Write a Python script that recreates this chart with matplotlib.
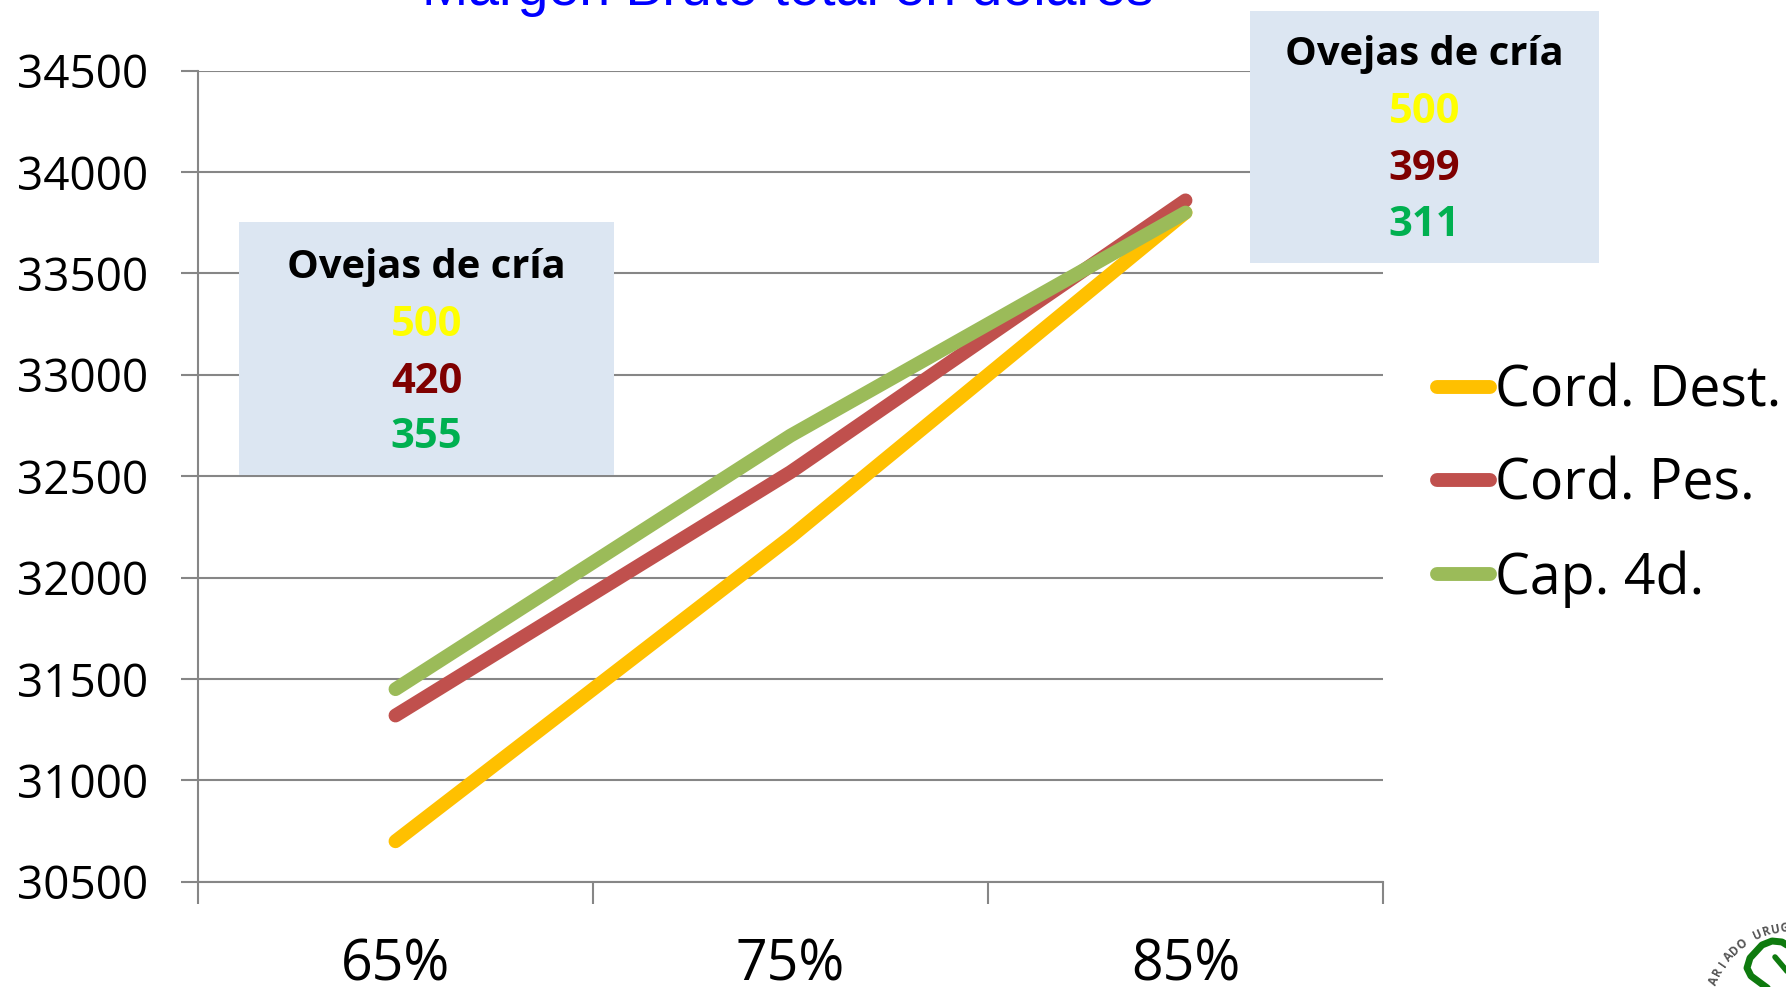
import numpy as np
import matplotlib
matplotlib.use('Agg')
import matplotlib.pyplot as plt
from matplotlib.patches import Rectangle
from matplotlib.lines import Line2D

# Data
categories = ['65%', '75%', '85%']
cord_dest = [30700, 32200, 33800]
cord_pes = [31320, 32520, 33860]
cap_4d = [31450, 32700, 33800]
y_ticks = [30500, 31000, 31500, 32000, 32500, 33000, 33500, 34000, 34500]

box_title = 'Ovejas de cría'
box_left_values = ['500', '420', '355']
box_right_values = ['500', '399', '311']
box_value_colors = ['#FFFF00', '#7F0000', '#00B050']

W, H = 1786, 987
GRAY = '#868686'
FONT = 'Open Sans'
LW = 10

plt.rcParams['font.family'] = [FONT, 'DejaVu Sans']
fig = plt.figure(figsize=((W + 0.01) / 100, (H + 0.01) / 100), dpi=100, facecolor='white')


# Reference is measured in pixels from the top left
def fx(px):
    return px / W


def fy(py):
    return 1 - py / H


ax = fig.add_axes([fx(198), fy(881.8), fx(1383) - fx(198), fy(70.6) - fy(881.8)])

x = np.arange(len(categories)) + 0.5
ax.plot(x, cord_dest, color='#FFC000', lw=LW, solid_capstyle='round', solid_joinstyle='round')
ax.plot(x, cord_pes, color='#C0504D', lw=LW, solid_capstyle='round', solid_joinstyle='round')
ax.plot(x, cap_4d, color='#9BBB59', lw=LW, solid_capstyle='round', solid_joinstyle='round')

ax.set_xlim(0, len(categories))
ax.set_ylim(y_ticks[0], y_ticks[-1])
ax.set_yticks(y_ticks)
ax.set_xticks(np.arange(len(categories) + 1))
ax.set_xticklabels([])
ax.set_xticks(x, minor=True)
ax.set_xticklabels(categories, minor=True)

ax.grid(axis='y', color=GRAY, lw=1.5)
ax.set_axisbelow(True)
for name in ['top', 'right']:
    ax.spines[name].set_visible(False)
for name in ['left', 'bottom']:
    ax.spines[name].set_color(GRAY)
    ax.spines[name].set_linewidth(1.5)

ax.tick_params(axis='y', length=12, width=1.5, color=GRAY, pad=24, labelsize=33)
ax.tick_params(axis='x', which='major', length=16, width=1.5, color=GRAY)
ax.tick_params(axis='x', which='minor', length=0, pad=40, labelsize=40)

handles = [Line2D([0], [0], color=c, lw=LW, solid_capstyle='round') for c in ['#FFC000', '#C0504D', '#9BBB59']]
ax.legend(handles, ['Cord. Dest.', 'Cord. Pes.', 'Cap. 4d.'], frameon=False, fontsize=40,
          loc='upper left', bbox_to_anchor=(fx(1437), fy(363)), bbox_transform=fig.transFigure,
          borderaxespad=0, borderpad=0, handlelength=0.95, handletextpad=0.1, labelspacing=0.66)

fig.text(fx(788), fy(5), 'Margen Bruto total en dólares', color='#0000FF', fontsize=40,
         family='Liberation Sans', ha='center', va='baseline')


def draw_box(left, top, right, bottom, values, rows):
    fig.add_artist(Rectangle((fx(left), fy(bottom)), fx(right - left), (bottom - top) / H,
                             transform=fig.transFigure, facecolor='#DCE6F2', edgecolor='none', zorder=2))
    cx = fx((left + right) / 2)
    fig.text(cx, fy(rows[0]), box_title, color='black', fontsize=28.7, fontweight='bold',
             ha='center', va='center', zorder=3)
    for val, col, row in zip(values, box_value_colors, rows[1:]):
        fig.text(cx, fy(row), val, color=col, fontsize=30, fontweight='bold',
                 ha='center', va='center', zorder=3)


draw_box(239, 222, 614, 475, box_left_values, [267, 325, 382, 437])
draw_box(1250, 11, 1598.5, 263, box_right_values, [54, 112, 169, 225])

# Partial logo in the bottom right corner
logo_text = 'ARIADO URUG'
cx_logo, cy_logo, r_logo = 1792, 1012, 84
angles = np.linspace(158, 95, len(logo_text))
for ch, ang in zip(logo_text, angles):
    a = np.radians(ang)
    fig.text(fx(cx_logo + r_logo * np.cos(a)), fy(cy_logo - r_logo * np.sin(a)), ch, color='#555555',
             fontsize=8.5, fontweight='bold', ha='center', va='center', rotation=ang - 90,
             rotation_mode='anchor')

loop_x = [1790, 1782, 1772, 1762, 1750, 1747, 1751, 1770]
loop_y = [947, 942, 941, 945, 958, 968, 976, 990]
fig.add_artist(Line2D([fx(v) for v in loop_x], [fy(v) for v in loop_y], transform=fig.transFigure,
                      color='#0E7A0E', lw=5, solid_capstyle='round', solid_joinstyle='round'))
inner_x = [1775, 1786, 1790]
inner_y = [957, 970, 975]
fig.add_artist(Line2D([fx(v) for v in inner_x], [fy(v) for v in inner_y], transform=fig.transFigure,
                      color='#0E7A0E', lw=4, solid_capstyle='round'))

fig.savefig('out.png', dpi=100)
